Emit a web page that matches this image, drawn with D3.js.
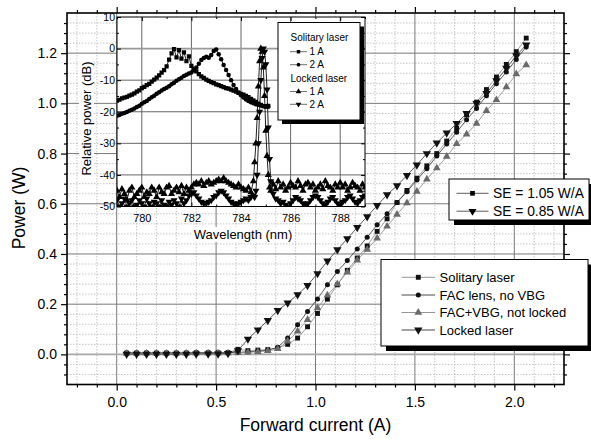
<!DOCTYPE html>
<html><head><meta charset="utf-8">
<script src="https://cdn.jsdelivr.net/npm/d3@7"></script>
<style>body{margin:0;background:#fff}svg{display:block;font-family:"Liberation Sans",Arial,sans-serif}</style>
</head><body><svg id="c" width="591" height="441"></svg>
<script>
// ---------------- main chart data ----------------
const currentA = [0.05,0.10,0.15,0.20,0.25,0.30,0.35,0.40,0.46,0.51,0.56,
  0.61,0.66,0.71,0.76,0.81,0.86,0.91,0.96,1.01,1.06,1.11,1.16,1.21,1.26,1.31,1.36,1.41,1.46,1.51,
  1.56,1.61,1.66,1.71,1.76,1.81,1.86,1.91,1.96,2.01,2.06];
const solitaryW = [0.005,0.005,0.005,0.005,0.005,0.005,0.005,0.006,0.006,0.006,0.007,
  0.020,0.015,0.017,0.019,0.025,0.040,0.065,0.110,0.163,0.220,0.277,0.335,0.384,0.432,0.490,0.540,0.605,0.653,0.702,
  0.751,0.800,0.850,0.900,0.955,1.005,1.055,1.105,1.155,1.206,1.260];
const facLensW = [0.006,0.006,0.006,0.006,0.006,0.006,0.006,0.007,0.007,0.007,0.007,
  0.008,0.010,0.013,0.017,0.028,0.065,0.118,0.171,0.221,0.277,0.330,0.374,0.420,0.467,0.516,0.560,0.605,0.648,0.695,
  0.740,0.790,0.838,0.885,0.935,0.980,1.030,1.078,1.125,1.175,1.225];
const facVbgW = [0.004,0.004,0.004,0.004,0.004,0.004,0.004,0.005,0.005,0.005,0.005,
  0.006,0.008,0.010,0.014,0.022,0.052,0.092,0.138,0.185,0.236,0.280,0.327,0.375,0.418,0.463,0.510,0.557,0.603,0.649,
  0.698,0.742,0.788,0.839,0.877,0.920,0.971,1.014,1.065,1.117,1.153];
const lockedW = [0.001,0.001,0.001,0.001,0.001,0.001,0.001,0.002,0.002,0.002,0.004,
  0.015,0.061,0.098,0.135,0.175,0.205,0.238,0.275,0.322,0.372,0.417,0.461,0.506,0.549,0.593,0.636,0.672,0.713,0.755,
  0.800,0.842,0.882,0.920,0.960,1.000,1.040,1.090,1.140,1.190,1.233];
const mainSeriesNames = ["Solitary laser","FAC lens, no VBG","FAC+VBG, not locked","Locked laser"];
const seLabels = ["SE = 1.05 W/A","SE = 0.85 W/A"];
const xTicksMain = [0,0.5,1.0,1.5,2.0];
const yTicksMain = [0,0.2,0.4,0.6,0.8,1.0,1.2];

// ---------------- inset (spectra) data ----------------
const solitaryWl = [779.0,779.1,779.2,779.3,779.4,779.5,779.6,779.7,779.8,779.9,
  780.0,780.1,780.2,780.3,780.4,780.5,780.6,780.7,780.8,780.9,
  781.0,781.1,781.2,781.3,781.4,781.5,781.6,781.7,781.8,781.9,
  782.0,782.1,782.2,782.3,782.4,782.5,782.6,782.7,782.8,782.9,
  783.0,783.1,783.2,783.3,783.4,783.5,783.6,783.7,783.8,783.9,
  784.0,784.1,784.2,784.3,784.4,784.5,784.6,784.7,784.8,784.9,
  785.0,785.1];
const solitary1A = [-16.5,-16.2,-15.8,-15.5,-15.3,-14.9,-14.6,-14.2,-13.6,-13.2,
  -12.5,-12.1,-11.6,-11.2,-10.5,-9.8,-9.2,-8.5,-7.6,-6.8,
  -5.6,-3.5,-1.5,-0.2,-2.8,-0.5,-3.2,-1.2,-4.0,-2.5,
  -5.5,-6.4,-7.2,-8.1,-8.8,-9.3,-9.8,-10.2,-10.6,-10.9,
  -11.3,-11.6,-11.9,-12.2,-12.5,-12.7,-13.0,-13.3,-13.6,-14.0,
  -14.3,-14.6,-15.0,-15.4,-15.9,-16.4,-16.9,-17.4,-17.8,-18.2,
  -18.4,-18.1];
const solitary2A = [-21.3,-21.0,-20.6,-20.4,-20.1,-19.7,-19.4,-19.0,-18.5,-18.1,
  -17.5,-17.0,-16.6,-16.0,-15.4,-14.9,-14.3,-13.8,-13.3,-12.8,
  -12.4,-11.9,-11.3,-10.8,-10.2,-9.7,-9.2,-8.7,-8.3,-7.9,
  -7.6,-6.9,-6.0,-4.8,-3.6,-3.0,-2.6,-2.9,-2.0,-0.8,
  -0.3,-1.8,-3.4,-5.2,-6.8,-8.4,-10.0,-11.5,-12.8,-13.9,
  -14.8,-15.5,-16.1,-16.6,-17.0,-17.3,-17.6,-17.8,-18.0,-18.2,
  -18.3,-18.4];
const lockedWl = [779.0,779.1,779.2,779.3,779.4,779.5,779.6,779.7,779.8,779.9,
  780.0,780.1,780.2,780.3,780.4,780.5,780.6,780.7,780.8,780.9,
  781.0,781.1,781.2,781.3,781.4,781.5,781.6,781.7,781.8,781.9,
  782.0,782.1,782.2,782.3,782.4,782.5,782.6,782.7,782.8,782.9,
  783.0,783.1,783.2,783.3,783.4,783.5,783.6,783.7,783.8,783.9,
  784.0,784.1,784.2,784.3,784.4,784.5,
  784.55,784.6,784.65,784.7,784.75,784.8,784.85,784.9,784.95,785.0,785.05,785.1,785.15,
  785.2,785.3,785.4,785.5,785.6,785.7,785.8,785.9,786.0,786.1,
  786.2,786.3,786.4,786.5,786.6,786.7,786.8,786.9,787.0,787.1,
  787.2,787.3,787.4,787.5,787.6,787.7,787.8,787.9,788.0,788.1,
  788.2,788.3,788.4,788.5,788.6,788.7,788.8,788.9,789.0];
const locked1A = [-45,-47,-44.5,-46,-48,-45,-44,-47,-46,-45,
  -44,-47,-45.5,-46,-44,-45,-47,-44,-45.5,-46,
  -44,-43.5,-46,-45,-44,-45.5,-43.5,-46,-44,-45,
  -44,-43,-42.5,-43,-42,-43.5,-42.5,-42,-43,-42.5,
  -42,-41.5,-42,-41,-42,-42.5,-43,-43.5,-44,-43,
  -44,-44.5,-45,-44,-45.5,-42,
  -36,-30,-22,-12,-4,0,-1,-6,-15,-26,-34,-40,-44,
  -45,-43,-44.5,-42,-44,-43,-45,-44,-42.5,-43.5,
  -44,-42,-43.5,-45,-43,-42.5,-44,-43,-45,-44,
  -43,-44.5,-42,-43.5,-44,-45,-43,-44,-42.5,-44,
  -43,-45,-44,-42.5,-43.5,-44,-45,-43,-44];
const locked2A = [-48,-50,-49,-47.5,-50,-49,-48,-50,-49.5,-48,
  -49,-50,-47.5,-49,-50,-48.5,-49,-50,-48,-49.5,
  -50,-48.5,-49.5,-48,-49,-50,-47.5,-49,-48,-46.5,
  -46,-45.5,-46.5,-47.5,-48.5,-49,-49,-48.5,-48,-47,
  -46.5,-45.5,-45,-45.5,-46.5,-47.5,-48.5,-49,-49.5,-49,
  -48.5,-48,-47.5,-48,-47,-46.5,
  -47,-45,-40,-30,-20,-10,-3,0,-1,-5,-13,-25,-35,
  -42,-46,-47.5,-48,-49,-48.5,-49.5,-50,-49,-48,
  -47,-47.5,-48,-49,-49.5,-49,-48,-47,-46.5,-47,
  -48,-49,-49.5,-48.5,-47.5,-47,-48,-49,-49.5,-48.5,
  -48,-47,-46.5,-47.5,-48.5,-49,-48,-47,-46.5];
const insetXTicks = [780,782,784,786,788];
const insetYTicks = [10,0,-10,-20,-30,-40,-50];

// ---------------- drawing ----------------
const svg = d3.select("#c");
svg.append("rect").attr("width",591).attr("height",441).attr("fill","#fff");

const L=67, R=564, T=13, B=384.5;
const x = d3.scaleLinear().domain([-0.25,2.25]).range([L,R]);
const y = d3.scaleLinear().domain([-0.12,1.36]).range([B,T]);

const xMinor = d3.range(-0.2,2.25,0.1).map(v=>+v.toFixed(2)).filter(v=>Math.abs(v*2-Math.round(v*2))>1e-6);
const yMinor = d3.range(-0.08,1.36,0.04).map(v=>+v.toFixed(2)).filter(v=>Math.abs(v*5-Math.round(v*5))>1e-6);

const grid = svg.append("g");
grid.selectAll(".vm").data(xMinor).join("line").attr("x1",d=>x(d)).attr("x2",d=>x(d)).attr("y1",T).attr("y2",B)
  .attr("stroke","#b8b8b8").attr("stroke-width",0.8).attr("stroke-dasharray","1.5,1.5");
grid.selectAll(".hm").data(yMinor).join("line").attr("y1",d=>y(d)).attr("y2",d=>y(d)).attr("x1",L).attr("x2",R)
  .attr("stroke","#b8b8b8").attr("stroke-width",0.8).attr("stroke-dasharray","1.5,1.5");
grid.selectAll(".vM").data(xTicksMain).join("line").attr("x1",d=>x(d)).attr("x2",d=>x(d)).attr("y1",T).attr("y2",B)
  .attr("stroke","#7a7a7a").attr("stroke-width",1);
grid.selectAll(".hM").data(yTicksMain).join("line").attr("y1",d=>y(d)).attr("y2",d=>y(d)).attr("x1",L).attr("x2",R)
  .attr("stroke",d=>d===0?"#a8a8a8":"#7a7a7a").attr("stroke-width",d=>d===0?1.6:1);

// axes (ticks outside on all four sides)
function addAxis(axisFn, scale, major, minor, transform, fmt){
  const g1 = svg.append("g").attr("transform",transform)
    .call(axisFn(scale).tickValues(minor).tickSize(3).tickFormat(""));
  const g2 = svg.append("g").attr("transform",transform)
    .call(axisFn(scale).tickValues(major).tickSize(6).tickPadding(4).tickFormat(fmt||""));
  [g1,g2].forEach(g=>{g.select(".domain").remove(); g.selectAll("line").attr("stroke","#000").attr("stroke-width",1.2);});
  return g2;
}
const fmt1 = d3.format(".1f");
const gb = addAxis(d3.axisBottom,x,xTicksMain,xMinor,`translate(0,${B})`,fmt1);
gb.selectAll("text").attr("font-size",14).attr("fill","#000").attr("dy","0.9em");
addAxis(d3.axisTop,x,xTicksMain,xMinor,`translate(0,${T})`);
const gl = addAxis(d3.axisLeft,y,yTicksMain,yMinor,`translate(${L},0)`,fmt1);
gl.selectAll("text").attr("font-size",14).attr("fill","#000");
addAxis(d3.axisRight,y,yTicksMain,yMinor,`translate(${R},0)`);

svg.append("rect").attr("x",L).attr("y",T).attr("width",R-L).attr("height",B-T)
  .attr("fill","none").attr("stroke","#000").attr("stroke-width",1.6);

// main series
const triDown = {draw(ctx,size){const s=Math.sqrt(size/(Math.sqrt(3)/4));const h=s*Math.sqrt(3)/2;
  ctx.moveTo(-s/2,-h/3);ctx.lineTo(s/2,-h/3);ctx.lineTo(0,2*h/3);ctx.closePath();}};
const triUp = {draw(ctx,size){const s=Math.sqrt(size/(Math.sqrt(3)/4));const h=s*Math.sqrt(3)/2;
  ctx.moveTo(-s/2,h/3);ctx.lineTo(s/2,h/3);ctx.lineTo(0,-2*h/3);ctx.closePath();}};
const mainSeries = [
  {vals:solitaryW, sym:d3.symbolSquare, size:24, line:"#8a8a8a", fill:"#111"},
  {vals:facLensW, sym:d3.symbolCircle, size:20, line:"#333", fill:"#111"},
  {vals:facVbgW, sym:triUp, size:26, line:"#8a8a8a", fill:"#6a6a6a"},
  {vals:lockedW, sym:triDown, size:30, line:"#333", fill:"#111"}
];
const mg = svg.append("g");
mainSeries.forEach(s=>{
  const pts = currentA.map((c,i)=>[c,s.vals[i]]);
  mg.append("path").datum(pts).attr("fill","none").attr("stroke",s.line).attr("stroke-width",0.8)
    .attr("d",d3.line().x(d=>x(d[0])).y(d=>y(d[1])));
});
mainSeries.forEach(s=>{
  const pts = currentA.map((c,i)=>[c,s.vals[i]]);
  mg.selectAll(null).data(pts).join("path").attr("transform",d=>`translate(${x(d[0])},${y(d[1])})`)
    .attr("d",d3.symbol(s.sym,s.size)).attr("fill",s.fill);
});

// axis titles
svg.append("text").attr("x",(L+R)/2).attr("y",431).attr("text-anchor","middle").attr("font-size",17.5).text("Forward current (A)");
svg.append("text").attr("transform","translate(25,208) rotate(-90)").attr("text-anchor","middle").attr("font-size",17.5).text("Power (W)");

// ---------------- inset ----------------
const iL=117, iR=365, iT=17, iB=206.5;
const xi = d3.scaleLinear().domain([779,789]).range([iL,iR]);
const yi = d3.scaleLinear().domain([-50,10]).range([iB,iT]);
const ins = svg.append("g");
ins.append("rect").attr("x",iL).attr("y",iT).attr("width",iR-iL).attr("height",iB-iT).attr("fill","#fff");
ins.selectAll(".ig").data(insetXTicks).join("line").attr("x1",d=>xi(d)).attr("x2",d=>xi(d)).attr("y1",iT).attr("y2",iB)
  .attr("stroke","#555").attr("stroke-width",0.9);
ins.selectAll(".ih").data(insetYTicks.filter(v=>v>-50&&v<10)).join("line").attr("y1",d=>yi(d)).attr("y2",d=>yi(d)).attr("x1",iL).attr("x2",iR)
  .attr("stroke",d=>d===0?"#999":"#555").attr("stroke-width",d=>d===0?1.6:0.9);

svg.append("clipPath").attr("id","ic").append("rect").attr("x",iL).attr("y",iT).attr("width",iR-iL).attr("height",iB-iT);
const idata = ins.append("g").attr("clip-path","url(#ic)");
const insetSeries = [
  {wl:lockedWl, vals:locked1A, sym:triUp, size:22},
  {wl:lockedWl, vals:locked2A, sym:triDown, size:22},
  {wl:solitaryWl, vals:solitary1A, sym:d3.symbolSquare, size:18},
  {wl:solitaryWl, vals:solitary2A, sym:d3.symbolCircle, size:16}
];
insetSeries.forEach(s=>{
  const pts = s.wl.map((w,i)=>[w,s.vals[i]]);
  idata.append("path").datum(pts).attr("fill","none").attr("stroke","#222").attr("stroke-width",1)
    .attr("d",d3.line().x(d=>xi(d[0])).y(d=>yi(d[1])));
  idata.selectAll(null).data(pts).join("path").attr("transform",d=>`translate(${xi(d[0])},${yi(d[1])})`)
    .attr("d",d3.symbol(s.sym,s.size)).attr("fill","#000");
});

// inset axes: inward ticks
const ixMinor = [779,781,783,785,787,789];
const iyMinor = [5,-5,-15,-25,-35,-45];
function insAxis(axisFn, scale, major, minor, transform, fmt){
  const g1 = ins.append("g").attr("transform",transform).call(axisFn(scale).tickValues(minor).tickSize(-2).tickFormat(""));
  const g2 = ins.append("g").attr("transform",transform).call(axisFn(scale).tickValues(major).tickSize(-4).tickPadding(fmt?5:0).tickFormat(fmt||""));
  [g1,g2].forEach(g=>{g.select(".domain").remove(); g.selectAll("line").attr("stroke","#000");});
  return g2;
}
const ib = insAxis(d3.axisBottom,xi,insetXTicks,ixMinor,`translate(0,${iB})`,d3.format("d"));
ib.selectAll("text").attr("font-size",11).attr("fill","#000").attr("dy","0.95em");
insAxis(d3.axisTop,xi,insetXTicks,ixMinor,`translate(0,${iT})`);
const il = insAxis(d3.axisLeft,yi,insetYTicks,iyMinor,`translate(${iL},0)`,d=>String(d));
il.selectAll("text").attr("font-size",10.5).attr("fill","#000").attr("x",-2);
insAxis(d3.axisRight,yi,insetYTicks,iyMinor,`translate(${iR},0)`);
ins.append("rect").attr("x",iL).attr("y",iT).attr("width",iR-iL).attr("height",iB-iT)
  .attr("fill","none").attr("stroke","#000").attr("stroke-width",1);

// inset titles with white backing
function labelBox(g, txt, tx, ty, rot, fs){
  const t = g.append("text").attr("transform",`translate(${tx},${ty}) rotate(${rot})`).attr("text-anchor","middle")
    .attr("font-size",fs).attr("fill","#000").text(txt);
  const bb = t.node().getBBox();
  g.insert("rect","text").attr("transform",`translate(${tx},${ty}) rotate(${rot})`)
    .attr("x",bb.x-2).attr("y",bb.y).attr("width",bb.width+4).attr("height",bb.height).attr("fill","#fff");
}
const tg1 = ins.append("g"); labelBox(tg1,"Wavelength (nm)",243,239,0,13);
const tg2 = ins.append("g"); labelBox(tg2,"Relative power (dB)",91,118.5,-90,13);

// inset legend
function shadowBox(g,x0,y0,w,h,off){
  g.append("rect").attr("x",x0+off).attr("y",y0+off).attr("width",w).attr("height",h).attr("fill","#000");
  g.append("rect").attr("x",x0).attr("y",y0).attr("width",w).attr("height",h).attr("fill","#fff").attr("stroke","#000").attr("stroke-width",1);
}
const il2 = svg.append("g");
shadowBox(il2,278,22.5,82,97.5,4);
const insLegRows = [
  {t:"Solitary laser", y:37.7, head:true},
  {t:"1 A", y:51.7, sym:d3.symbolSquare, size:12},
  {t:"2 A", y:64.7, sym:d3.symbolCircle, size:11},
  {t:"Locked laser", y:78.2, head:true},
  {t:"1 A", y:91.5, sym:triUp, size:14},
  {t:"2 A", y:104.3, sym:triDown, size:14}
];
insLegRows.forEach(r=>{
  if(r.head){ il2.append("text").attr("x",290.5).attr("y",r.y+3.6).attr("font-size",10).text(r.t); return; }
  il2.append("line").attr("x1",290).attr("x2",307).attr("y1",r.y).attr("y2",r.y).attr("stroke","#333").attr("stroke-width",0.7);
  il2.append("path").attr("transform",`translate(298.5,${r.y})`).attr("d",d3.symbol(r.sym,r.size)).attr("fill","#000");
  il2.append("text").attr("x",309.5).attr("y",r.y+3.6).attr("font-size",10).text(r.t);
});

// SE legend
const seg = svg.append("g");
shadowBox(seg,449,179,140,41,5);
[[seLabels[0],193.3,d3.symbolSquare,22],[seLabels[1],211.2,triDown,28]].forEach(([t,yy,sy,sz])=>{
  seg.append("line").attr("x1",456.5).attr("x2",488.5).attr("y1",yy).attr("y2",yy).attr("stroke","#333").attr("stroke-width",0.8);
  seg.append("path").attr("transform",`translate(472.5,${yy})`).attr("d",d3.symbol(sy,sz)).attr("fill","#000");
  seg.append("text").attr("x",493).attr("y",yy+5).attr("font-size",13.8).text(t);
});

// main legend
const lg = svg.append("g");
shadowBox(lg,381,259.5,207,86.5,5);
const legY = [277.3,295,312.5,330];
mainSeries.forEach((s,i)=>{
  const yy = legY[i];
  lg.append("line").attr("x1",401.5).attr("x2",435).attr("y1",yy).attr("y2",yy).attr("stroke",s.line).attr("stroke-width",0.9);
  lg.append("path").attr("transform",`translate(418.3,${yy})`).attr("d",d3.symbol(s.sym,s.size)).attr("fill",s.fill);
  lg.append("text").attr("x",439.5).attr("y",yy+4.7).attr("font-size",13).text(mainSeriesNames[i]);
});
</script>
</body></html>
